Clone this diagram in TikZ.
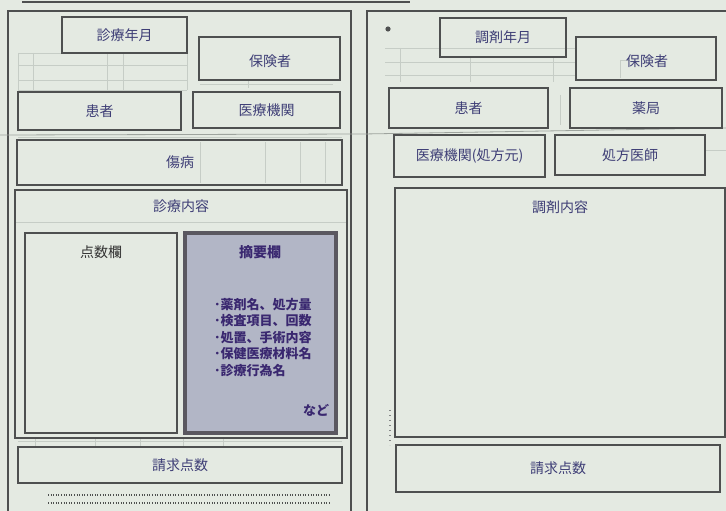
\documentclass[tikz,border=0pt]{standalone}
\usepackage{fontspec}
\newfontfamily\jp{Noto Sans CJK JP}
\definecolor{bg}{RGB}{228,234,226}
\definecolor{boxc}{RGB}{78,80,80}
\definecolor{labc}{RGB}{62,62,118}
\definecolor{tekc}{RGB}{178,182,198}
\definecolor{tekb}{RGB}{90,88,96}
\definecolor{tekt}{RGB}{58,40,112}
\definecolor{faint}{RGB}{198,205,198}
\tikzset{
  box/.style={draw=boxc, line width=2.2pt, inner sep=0pt, font=\jp\fontsize{14}{16}\selectfont, text=labc},
  frameline/.style={draw=boxc, line width=1.1pt},
  faintline/.style={draw=faint, line width=0.6pt},
  teklabel/.style={font=\jp\bfseries\fontsize{13}{16.5}\selectfont, text=tekt, inner sep=0pt},
}
\newcommand{\bx}[6]{\node[box,#6, minimum width=#4-#2, minimum height=#5-#3] (#1) at ({(#2+#4)/2},{(#3+#5)/2}) {};}
\begin{document}
\begin{tikzpicture}[x=1pt,y=-1pt]
\useasboundingbox (0,0) rectangle (726,511);
\fill[bg] (0,0) rectangle (726,511);
% top rule and outer frames
\draw[boxc, line width=1.6pt] (22,2) -- (410,2);
\draw[frameline] (8,511) -- (8,11) -- (351,11) -- (351,511);
\draw[frameline] (367,511) -- (367,11) -- (726,11);
% scan line across
\draw[faint!80!black, line width=0.8pt] (0,135) -- (363,134) -- (726,128);
% faint grid, left form
\draw[faintline] (18,53) -- (187,53);
\draw[faintline] (18,65) -- (187,65);
\draw[faintline] (18,80) -- (187,80);
\draw[faintline] (18,90) -- (187,90);
\draw[faintline] (18,53) -- (18,90);
\draw[faintline] (33,53) -- (33,90);
\draw[faintline] (107,53) -- (107,90);
\draw[faintline] (123,53) -- (123,90);
\draw[faintline] (187,53) -- (187,90);
\draw[faintline] (200,84) -- (333,84);
\draw[faintline] (248,80) -- (248,88);
\draw[faintline] (18,137) -- (342,137);
\draw[faintline] (200,142) -- (200,183);
\draw[faintline] (265,142) -- (265,183);
\draw[faintline] (300,142) -- (300,183);
\draw[faintline] (325,142) -- (325,183);
\draw[faintline] (15,222) -- (347,222);
\draw[faintline] (18,441) -- (342,441);
\draw[faintline] (35,438) -- (35,447);
\draw[faintline] (95,438) -- (95,447);
\draw[faintline] (140,438) -- (140,447);
\draw[faintline] (183,438) -- (183,447);
\draw[faintline] (223,438) -- (223,447);
% faint grid, right form
\draw[faintline] (385,48) -- (575,48);
\draw[faintline] (385,62) -- (575,62);
\draw[faintline] (385,75) -- (575,75);
\draw[faintline] (400,48) -- (400,82);
\draw[faintline] (470,57) -- (470,82);
\draw[faintline] (553,57) -- (553,82);
\draw[faintline] (620,60) -- (620,78);
\draw[faintline] (620,60) -- (630,60);
\draw[faintline] (560,95) -- (560,125);
\draw[faintline] (705,150) -- (726,150);
% dotted rows, left bottom
\draw[boxc, line width=1.6pt, dash pattern=on 1pt off 1.6pt] (48,495) -- (330,495);
\draw[boxc, line width=1.6pt, dash pattern=on 1pt off 1.6pt] (48,503) -- (330,503);
\draw[boxc!70, line width=1.6pt, dash pattern=on 1pt off 4pt] (390,410) -- (390,445);
\fill[boxc] (388,29) circle (2.6pt);
% left form boxes
\bx{shinryo}{62}{17}{187}{53}{}
\node[box, draw=none] (shinryoT) at (shinryo) {診療年月};
\bx{hokenL}{199}{37}{340}{80}{}
\node[box, draw=none] (hokenLT) at (270,61) {保険者};
\bx{kanjaL}{18}{92}{181}{130}{}
\node[box, draw=none] (kanjaLT) at (kanjaL) {患者};
\bx{iryo}{193}{92}{340}{128}{}
\node[box, draw=none] (iryoT) at (iryo) {医療機関};
\bx{shobyo}{17}{140}{342}{185}{}
\node[box, draw=none] (shobyoT) at (180,162) {傷病};
\node[draw=boxc, line width=1.4pt, minimum width=332, minimum height=248, inner sep=0pt] (naiyo) at (181,314) {};
\node[box, draw=none] (naiyoT) at (181,206) {診療内容};
\bx{tensu}{25}{233}{177}{433}{}
\node[box, draw=none, text=black!80] (tensuT) at (101,252) {点数欄};
\node[draw=tekb, line width=3.6pt, fill=tekc, minimum width=151, minimum height=200, inner sep=0pt] (tekiyo) at (260.5,333) {};
\node[teklabel, font=\jp\bfseries\fontsize{14}{16}\selectfont] (tekiyoT) at (260,252) {摘要欄};
\node[teklabel, align=left, anchor=north west] (tekiyoL) at (214,298) {･薬剤名、処方量\\･検査項目、回数\\･処置、手術内容\\･保健医療材料名\\･診療行為名};
\node[teklabel] (nado) at (316,410) {など};
\bx{seikyuL}{18}{447}{342}{483}{}
\node[box, draw=none] (seikyuLT) at (seikyuL) {請求点数};
% right form boxes
\bx{chozai}{440}{18}{566}{57}{}
\node[box, draw=none] (chozaiT) at (chozai) {調剤年月};
\bx{hokenR}{576}{37}{716}{80}{}
\node[box, draw=none] (hokenRT) at (647,61) {保険者};
\bx{kanjaR}{389}{88}{548}{128}{}
\node[box, draw=none] (kanjaRT) at (kanjaR) {患者};
\bx{yakkyoku}{570}{88}{722}{128}{}
\node[box, draw=none] (yakkyokuT) at (yakkyoku) {薬局};
\bx{iryoR}{394}{135}{545}{177}{}
\node[box, draw=none] (iryoRT) at (iryoR) {医療機関(処方元)};
\bx{ishi}{555}{135}{705}{175}{}
\node[box, draw=none] (ishiT) at (ishi) {処方医師};
\bx{chozaiN}{395}{188}{725}{437}{}
\node[box, draw=none] (chozaiNT) at (560,207) {調剤内容};
\bx{seikyuR}{396}{445}{720}{492}{}
\node[box, draw=none] (seikyuRT) at (seikyuR) {請求点数};
\end{tikzpicture}
\end{document}
